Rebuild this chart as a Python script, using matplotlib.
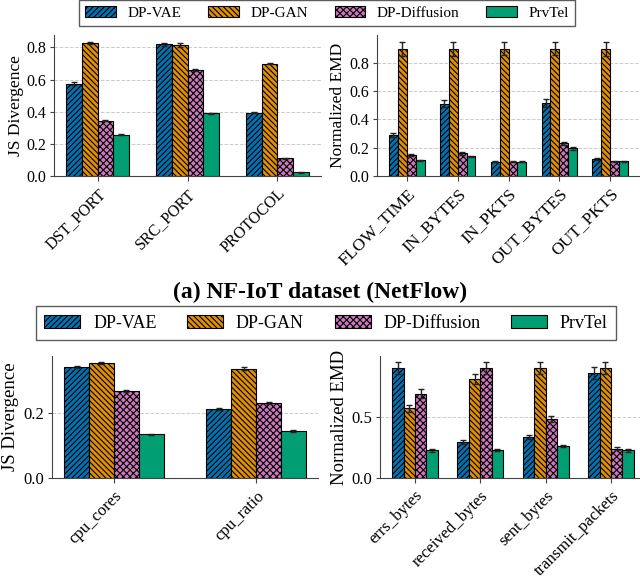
import matplotlib
matplotlib.use('Agg')
import matplotlib.pyplot as plt
from matplotlib.patches import Patch
import numpy as np

plt.rcParams['font.family'] = ['Liberation Serif', 'DejaVu Serif']
plt.rcParams['hatch.linewidth'] = 0.8

methods = ['DP-VAE', 'DP-GAN', 'DP-Diffusion', 'PrvTel']
colors = ['#0173b2', '#de8f05', '#cc78bc', '#029e73']
hatches = ['//////', '\\\\\\\\\\\\', 'xxxxx', '']

# (a) NF-IoT categorical: JS divergence
nf_cat = ['DST_PORT', 'SRC_PORT', 'PROTOCOL']
nf_js_vae = [0.575, 0.820, 0.395]
nf_js_gan = [0.830, 0.815, 0.700]
nf_js_diff = [0.345, 0.660, 0.110]
nf_js_prv = [0.258, 0.390, 0.022]
nf_js_vae_err = [0.008, 0.010, 0.004]
nf_js_gan_err = [0.006, 0.010, 0.005]
nf_js_diff_err = [0.003, 0.004, 0.002]
nf_js_prv_err = [0.003, 0.004, 0.001]

# (a) NF-IoT numerical: normalized EMD
nf_num = ['FLOW_TIME', 'IN_BYTES', 'IN_PKTS', 'OUT_BYTES', 'OUT_PKTS']
nf_emd_vae = [0.290, 0.510, 0.100, 0.515, 0.120]
nf_emd_gan = [0.900, 0.900, 0.900, 0.900, 0.900]
nf_emd_diff = [0.148, 0.160, 0.100, 0.232, 0.105]
nf_emd_prv = [0.110, 0.138, 0.100, 0.195, 0.103]
nf_emd_vae_err = [0.015, 0.025, 0.004, 0.028, 0.004]
nf_emd_gan_err = [0.048, 0.048, 0.045, 0.045, 0.050]
nf_emd_diff_err = [0.008, 0.008, 0.004, 0.012, 0.004]
nf_emd_prv_err = [0.004, 0.005, 0.003, 0.010, 0.003]

# (b) categorical: JS divergence
vm_cat = ['cpu_cores', 'cpu_ratio']
vm_js_vae = [0.340, 0.210]
vm_js_gan = [0.352, 0.335]
vm_js_diff = [0.268, 0.230]
vm_js_prv = [0.134, 0.144]
vm_js_vae_err = [0.004, 0.003]
vm_js_gan_err = [0.004, 0.004]
vm_js_diff_err = [0.003, 0.002]
vm_js_prv_err = [0.002, 0.002]

# (b) numerical: normalized EMD
vm_num = ['errs_bytes', 'received_bytes', 'sent_bytes', 'transmit_packets']
vm_emd_vae = [0.900, 0.295, 0.335, 0.860]
vm_emd_gan = [0.570, 0.810, 0.900, 0.900]
vm_emd_diff = [0.690, 0.900, 0.480, 0.240]
vm_emd_prv = [0.225, 0.230, 0.260, 0.225]
vm_emd_vae_err = [0.050, 0.015, 0.020, 0.050]
vm_emd_gan_err = [0.030, 0.040, 0.050, 0.050]
vm_emd_diff_err = [0.035, 0.050, 0.025, 0.010]
vm_emd_prv_err = [0.012, 0.010, 0.010, 0.012]

W, H = 640, 577
fig = plt.figure(figsize=(W / 100, H / 100), dpi=100)


def rect(x0, x1, ytop, ybot):
    return [x0 / W, 1 - ybot / H, (x1 - x0) / W, (ybot - ytop) / H]


def draw(ax, cats, vals, errs, ylabel, yticks, fx=12, fy=11.5, fl=12.5, lab_px=30, width_px=267):
    x = np.arange(len(cats))
    w = 0.175
    for i, (v, e) in enumerate(zip(vals, errs)):
        ax.bar(x + (i - 1.5) * w, v, w, yerr=e, color=colors[i], hatch=hatches[i],
               edgecolor='black', linewidth=0.8, capsize=2.5,
               error_kw=dict(elinewidth=1.0, capthick=1.0, ecolor='#222222'),
               zorder=3)
    ax.set_xticks(x)
    ax.set_xticklabels(cats, rotation=45, ha='right', rotation_mode='anchor', fontsize=fx)
    ax.set_yticks(yticks)
    ax.tick_params(axis='both', colors='#444444', labelcolor='black')
    ax.tick_params(axis='y', labelsize=fy, length=3, pad=2.5)
    ax.set_ylabel(ylabel, fontsize=fl)
    ax.yaxis.set_label_coords(-lab_px / width_px, 0.5)
    ax.grid(axis='y', linestyle='--', color='#cccccc', linewidth=0.7, zorder=0)
    ax.set_axisbelow(True)
    for s in ['top', 'right']:
        ax.spines[s].set_visible(False)
    for s in ['left', 'bottom']:
        ax.spines[s].set_color('#444444')


ax1 = fig.add_axes(rect(54, 321, 35, 176))
draw(ax1, nf_cat, [nf_js_vae, nf_js_gan, nf_js_diff, nf_js_prv],
     [nf_js_vae_err, nf_js_gan_err, nf_js_diff_err, nf_js_prv_err],
     'JS Divergence', [0, 0.2, 0.4, 0.6, 0.8], fx=11.5, fy=11.5, fl=12.5,
     lab_px=30, width_px=267)

ax2 = fig.add_axes(rect(377, 640, 35, 176))
draw(ax2, nf_num, [nf_emd_vae, nf_emd_gan, nf_emd_diff, nf_emd_prv],
     [nf_emd_vae_err, nf_emd_gan_err, nf_emd_diff_err, nf_emd_prv_err],
     'Normalized EMD', [0, 0.2, 0.4, 0.6, 0.8], fx=12.5, fy=11.5, fl=12.5,
     lab_px=31, width_px=263)

ax3 = fig.add_axes(rect(52, 318, 356, 478))
draw(ax3, vm_cat, [vm_js_vae, vm_js_gan, vm_js_diff, vm_js_prv],
     [vm_js_vae_err, vm_js_gan_err, vm_js_diff_err, vm_js_prv_err],
     'JS Divergence', [0, 0.2], fx=12, fy=12, fl=13.5,
     lab_px=33, width_px=266)

ax4 = fig.add_axes(rect(380, 646, 356, 478))
draw(ax4, vm_num, [vm_emd_vae, vm_emd_gan, vm_emd_diff, vm_emd_prv],
     [vm_emd_vae_err, vm_emd_gan_err, vm_emd_diff_err, vm_emd_prv_err],
     'Normalized EMD', [0, 0.5], fx=12, fy=12, fl=13.5,
     lab_px=32, width_px=266)

handles = [Patch(facecolor=colors[i], hatch=hatches[i], edgecolor='black', linewidth=0.8)
           for i in range(4)]

leg1 = fig.legend(handles, methods, loc='center', bbox_to_anchor=(327 / W, 1 - 13 / H),
                  ncol=4, fontsize=11, frameon=True, fancybox=False,
                  edgecolor='#333333', borderpad=0.4, handletextpad=0.75, columnspacing=1.75)
leg1.get_frame().set_linewidth(1.0)

leg2 = fig.legend(handles, methods, loc='center', bbox_to_anchor=(326 / W, 1 - 323 / H),
                  ncol=4, fontsize=13, frameon=True, fancybox=False,
                  edgecolor='#333333', borderpad=0.45, handletextpad=0.7, columnspacing=1.7)
leg2.get_frame().set_linewidth(1.0)

fig.text(0.5, 1 - 292 / H, '(a) NF-IoT dataset (NetFlow)', ha='center', va='center',
         fontweight='bold', fontsize=17)

fig.savefig('out.png', dpi=100)
